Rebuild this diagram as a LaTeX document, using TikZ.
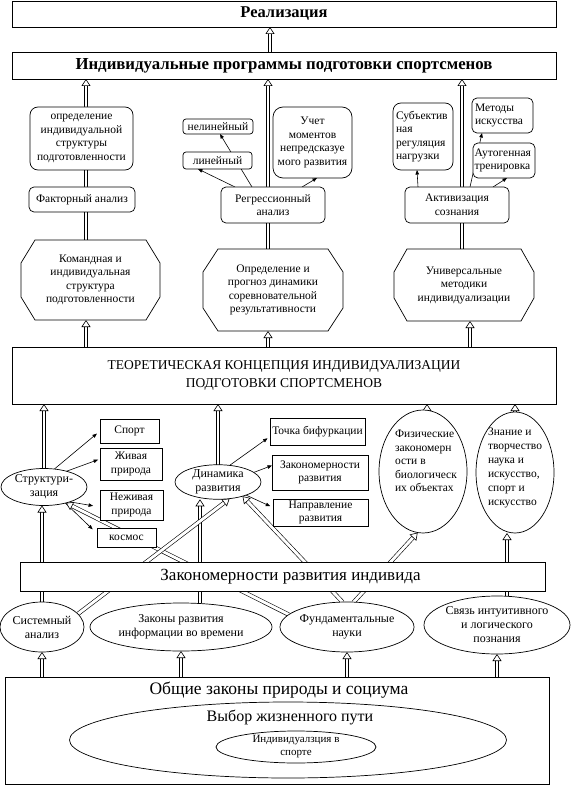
\documentclass[tikz,border=0pt]{standalone}
\usepackage{fontspec}
\setmainfont{Liberation Serif}
\usetikzlibrary{arrows.meta,calc,shapes.geometric}
\pgfdeclarelayer{bg}
\pgfdeclarelayer{mid}
\pgfsetlayers{bg,mid,main}
\tikzset{
  sz/.style 2 args={minimum width=#1pt, minimum height=#2pt},
  box/.style={draw, fill=white, line width=0.7pt, inner sep=1pt, outer sep=0pt, align=center, font=\fontsize{11.5}{13.5}\selectfont},
  rbox/.style={box, rounded corners=5pt},
  ell/.style={draw, fill=white, ellipse, line width=0.7pt, inner sep=0pt, outer sep=0pt, align=center, font=\fontsize{11.5}{13.5}\selectfont},
  octnode/.style={rectangle, inner sep=0pt, outer sep=0pt, align=center, font=\fontsize{11.5}{13.5}\selectfont},
  txt/.style={inner sep=0pt, align=center},
  dbl/.style={draw, double, double distance=2.9pt, line width=0.6pt, -{Triangle[open, fill=white, length=7pt, width=9pt, line width=0.6pt]}},
  sarr/.style={draw, line width=0.6pt, -{Triangle[length=4.5pt, width=3.5pt]}},
}
\newcommand\octpath[3]{%
  \draw[fill=white, line width=0.7pt]
    ($(#1.north west)+(#2,0)$) -- ($(#1.north east)+(-#2,0)$) --
    ($(#1.north east)+(0,#3)$) -- ($(#1.south east)+(0,-#3)$) --
    ($(#1.south east)+(-#2,0)$) -- ($(#1.south west)+(#2,0)$) --
    ($(#1.south west)+(0,-#3)$) -- ($(#1.north west)+(0,#3)$) -- cycle;}
\begin{document}
\begin{tikzpicture}[x=1pt, y=-1pt]
\useasboundingbox (0,0) rectangle (570,786);

% top
\node[box, font=\fontsize{16.5}{18}\selectfont\bfseries, sz={544}{26}] (real) at (284,14) {Реализация};
\node[box, font=\fontsize{16.8}{18}\selectfont\bfseries, sz={544}{27}] (indiv) at (284,65.5) {Индивидуальные программы подготовки спортсменов};

% left column
\node[rbox, rounded corners=8pt, sz={103}{63}] (opr) at (81.5,138.5) {определение\\индивидуальной\\структуры\\подготовленности};
\node[rbox, sz={106}{25}] (fakt) at (82,199.5) {Факторный анализ};
\node[octnode, sz={139}{80}] (oct1) at (90.5,280) {Командная и\\индивидуальная\\структура\\подготовленности};

% middle column
\node[rbox, rounded corners=3pt, sz={70}{15}] (nelin) at (218,126.5) {нелинейный};
\node[rbox, rounded corners=3pt, sz={69}{17}] (lin) at (217.5,160.5) {линейный};
\node[rbox, rounded corners=10pt, sz={79}{71}] (uchet) at (312.5,142.5) {Учет\\моментов\\непредсказуе\\мого развития};
\node[rbox, sz={104}{36}] (regr) at (273,205) {Регрессионный\\анализ};
\node[octnode, sz={140}{82}] (oct2) at (273,290) {Определение и\\прогноз динамики\\соревновательной\\результативности};

% right column
\node[rbox, rounded corners=8pt, sz={60}{67}, align=left, text width=54pt, inner sep=3pt] (subj) at (423,136.5) {Субъектив\\ная\\регуляция\\нагрузки};
\node[rbox, sz={61}{35}, align=left, text width=55pt, inner sep=3pt] (metod) at (502.5,115.5) {Методы\\искусства};
\node[rbox, sz={62}{35}, align=left, text width=59pt, inner sep=1.5pt] (auto) at (504,160.5) {Аутогенная\\тренировка};
\node[rbox, sz={104}{36}] (aktiv) at (457,205) {Активизация\\сознания};
\node[octnode, sz={140}{72}] (oct3) at (464,285) {Универсальные\\методики\\индивидуализации};

% theory
\node[box, font=\fontsize{13.5}{17.5}\selectfont, sz={544}{57}] (teor) at (284,375.5) {ТЕОРЕТИЧЕСКАЯ КОНЦЕПЦИЯ ИНДИВИДУАЛИЗАЦИИ\\ПОДГОТОВКИ СПОРТСМЕНОВ};

% lower part
\node[ell, font=\fontsize{12}{14}\selectfont, sz={86}{37}] (struct) at (44,487) {Структури-\\зация};
\node[box, sz={59}{24}] (sport) at (129.5,431) {Спорт};
\node[box, sz={62}{32}] (zhiv) at (131,464) {Живая\\природа};
\node[box, sz={63}{30}] (nezhiv) at (131.5,505) {Неживая\\природа};
\node[box, sz={59}{19}] (kosmos) at (126.5,537.5) {космос};
\node[ell, font=\fontsize{12}{14}\selectfont, sz={86}{34}] (dinam) at (218,482) {Динамика\\развития};
\node[box, sz={95}{27}] (tochka) at (317.5,431.5) {Точка бифуркации};
\node[box, sz={96}{35}] (zakon) at (320,472.5) {Закономерности\\развития};
\node[box, sz={95}{27}] (naprav) at (320.5,512.5) {Направление\\развития};
\node[ell, sz={88}{123}] (fiz) at (423,471.5) {};
\node[txt, align=left, font=\fontsize{11.5}{13.5}\selectfont] (fiztxt) at (426,461) {Физические\\закономерн\\ости в\\биологическ\\их объектах};
\node[ell, sz={78}{121}] (znan) at (515,472.5) {};
\node[txt, align=left, font=\fontsize{11.5}{14}\selectfont] (znantxt) at (515,468) {Знание и\\творчество\\наука и\\искусство,\\спорт и\\искусство};

\node[box, font=\fontsize{17}{19}\selectfont, sz={525}{29}] (zakind) at (282.5,576.5) {\hspace*{16pt}Закономерности развития индивида};

\node[ell, font=\fontsize{12}{14}\selectfont, sz={84}{50}] (sist) at (42,627) {Системный\\анализ};
\node[ell, font=\fontsize{12}{14}\selectfont, sz={182}{48}] (zakinf) at (181,627) {Законы развития\\информации во времени};
\node[ell, font=\fontsize{12}{14}\selectfont, sz={132}{50}] (fund) at (347,627) {Фундаментальные\\науки};
\node[ell, font=\fontsize{12}{14}\selectfont, sz={146}{58}] (svyaz) at (497,625) {Связь интуитивного\\и логического\\познания};

\node[box, sz={544}{107}] (obsh) at (277,730.5) {};
\node[txt, font=\fontsize{17.5}{19}\selectfont] (obshtxt) at (279,690) {Общие законы природы и социума};
\node[ell, sz={437}{76}] (vybor) at (288,740) {};
\node[txt, font=\fontsize{16}{18}\selectfont] (vybortxt) at (290,717) {Выбор жизненного пути};
\node[ell, font=\fontsize{11}{13}\selectfont, sz={160}{32}] (indsp) at (296,747) {Индивидуалзция в\\спорте};

% octagons
\begin{pgfonlayer}{mid}
\octpath{oct1}{14}{23}
\octpath{oct2}{15}{23}
\octpath{oct3}{13}{23}
\end{pgfonlayer}

% connectors
\begin{pgfonlayer}{bg}
\draw[dbl] (270,0 |- indiv.north) -- (270,0 |- real.south);
\draw[dbl] (86,0 |- oct1.north) -- (86,0 |- indiv.south);
\draw[dbl] (86,0 |- teor.north) -- (86,0 |- oct1.south);
\draw[dbl] (268,0 |- oct2.north) -- (268,0 |- indiv.south);
\draw[dbl] (268,0 |- teor.north) -- (268,0 |- oct2.south);
\draw[dbl] (462,0 |- oct3.north) -- (462,0 |- indiv.south);
\draw[dbl] (470,0 |- teor.north) -- (470,0 |- oct3.south);

\draw[sarr] (252,0 |- regr.north) -- (220,0 |- nelin.south);
\draw[sarr] (235,0 |- regr.north) -- (198,0 |- lin.south);
\draw[sarr] (302,0 |- regr.north) -- (317,0 |- uchet.south);
\draw[sarr] (418,0 |- aktiv.north) -- (417,0 |- subj.south);
\draw[sarr] (470,0 |- aktiv.north) -- (482,0 |- metod.south);
\draw[sarr] (493,0 |- aktiv.north) -- (507,0 |- auto.south);

\draw[dbl] (struct.north) -- (struct.north |- teor.south);
\draw[dbl] (dinam.north) -- (dinam.north |- teor.south);
\draw[dbl] (427,0 |- fiz.north) -- (427,0 |- teor.south);
\draw[dbl] (znan.north) -- (znan.north |- teor.south);

\draw[sarr, shorten >=4pt] (struct.60) -- (sport.west);
\draw[sarr, shorten >=2pt] (struct.35) -- ([yshift=5pt]zhiv.west);
\draw[sarr, shorten >=7pt] (struct.-30) -- ([yshift=-2pt]nezhiv.west);
\draw[sarr, shorten >=6pt] (struct.-37) -- ([yshift=4pt]kosmos.west);
\draw[sarr, shorten >=3pt] (dinam.55) -- ([yshift=-5pt]tochka.west);
\draw[sarr] (dinam.15) -- ([yshift=7pt]zakon.west);
\draw[sarr, shorten >=3pt] (dinam.-25) -- ([yshift=5pt]naprav.west);

\draw[dbl] (sist.north) -- (sist.north |- struct.south);
\draw[dbl] (200,0 |- zakinf.north) -- (200,0 |- dinam.south);
\draw[dbl] (507,0 |- svyaz.north) -- (507,0 |- znan.south);
\draw[dbl] (fund.168) -- (struct.324);
\draw[dbl] (sist.20) -- (dinam.305);
\draw[dbl] (fund.100) -- (dinam.330);
\draw[dbl] (fund.75) -- (fiz.265);

\draw[dbl] (sist.south |- obsh.north) -- (sist.south);
\draw[dbl] (zakinf.south |- obsh.north) -- (zakinf.south);
\draw[dbl] (fund.south |- obsh.north) -- (fund.south);
\draw[dbl] (svyaz.south |- obsh.north) -- (svyaz.south);
\end{pgfonlayer}
\end{tikzpicture}
\end{document}
